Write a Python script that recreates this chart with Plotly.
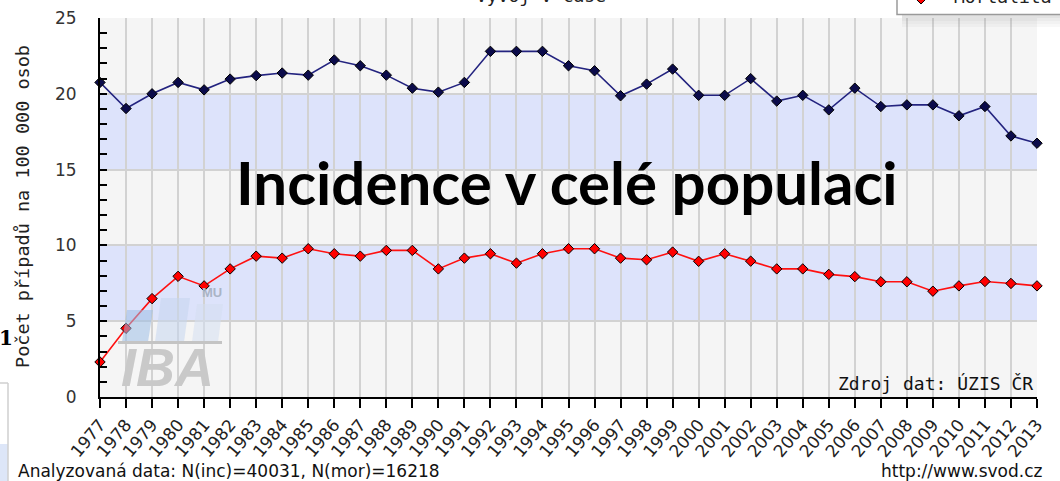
import plotly.graph_objects as go

years = list(range(1977, 2014))
incidence = [20.75, 19.03, 20.0, 20.75, 20.26, 20.97, 21.2, 21.37, 21.23, 22.23,
             21.85, 21.23, 20.37, 20.11, 20.75, 22.8, 22.8, 22.8, 21.85, 21.52,
             19.87, 20.64, 21.63, 19.9, 19.9, 21.0, 19.52, 19.9, 18.94, 20.37,
             19.16, 19.27, 19.27, 18.55, 19.16, 17.22, 16.74]
mortality = [2.31, 4.53, 6.49, 7.96, 7.33, 8.45, 9.29, 9.16, 9.78, 9.45,
             9.29, 9.67, 9.67, 8.45, 9.16, 9.45, 8.83, 9.45, 9.78, 9.78,
             9.16, 9.05, 9.56, 8.95, 9.45, 8.96, 8.45, 8.45, 8.09, 7.94,
             7.6, 7.6, 6.98, 7.33, 7.62, 7.49, 7.33]
tick_labels = [str(y) for y in years]
y_ticks = [0, 5, 10, 15, 20, 25]
series_names = ["Incidence", "Mortalita"]

W, H = 1060, 481
L, R, T, B = 100, 1037, 18, 397


def px(xp):
    return (xp - L) / (R - L)


def py(yp):
    return (B - yp) / (B - T)


fig = go.Figure()
fig.add_trace(go.Scatter(
    x=years, y=incidence, name=series_names[0], mode="lines+markers",
    line=dict(color="#23237f", width=1.6),
    marker=dict(symbol="diamond", size=8, color="#0b0b4a", line=dict(color="#000000", width=1)),
    cliponaxis=False, showlegend=False))
fig.add_trace(go.Scatter(
    x=years, y=mortality, name=series_names[1], mode="lines+markers",
    line=dict(color="#ff1010", width=1.6),
    marker=dict(symbol="diamond", size=8, color="#ff0000", line=dict(color="#000000", width=1)),
    cliponaxis=False, showlegend=False))

shapes = []
# horizontal bands
for y0, y1 in [(5, 10), (15, 20)]:
    shapes.append(dict(type="rect", xref="paper", yref="y", x0=0, x1=1, y0=y0, y1=y1,
                       fillcolor="#dde3fb", line=dict(width=0), layer="below"))

# watermark logo (IBA)
def para(x0, x1, ytop, ybot, skew, color, op):
    pts = [(x0, ybot), (x1, ybot), (x1 + skew, ytop), (x0 + skew, ytop)]
    path = "M " + " L ".join(f"{px(a):.5f},{py(b):.5f}" for a, b in pts) + " Z"
    return dict(type="path", xref="paper", yref="paper", path=path,
                fillcolor=color, line=dict(width=0), opacity=op, layer="above")

shapes.append(para(122, 148, 310, 342, 5, "#9dbde6", 0.55))
shapes.append(para(155, 184, 298, 342, 6, "#c4d5ee", 0.55))
shapes.append(para(192, 218, 304, 342, 5, "#d3def0", 0.55))
shapes.append(dict(type="line", xref="paper", yref="paper", x0=px(118), x1=px(222),
                   y0=py(342.5), y1=py(342.5), line=dict(color="#c4c4c4", width=3), layer="above"))

# legend box (cut at top) with shadow
for i, op in enumerate([0.25, 0.17, 0.11, 0.06]):
    shapes.append(dict(type="rect", xref="paper", yref="paper",
                       x0=px(902), x1=px(1075), y0=py(15 + 3 * (i + 1)), y1=py(15 + 3 * i),
                       fillcolor="#8a8a8a", opacity=op, line=dict(width=0), layer="above"))
shapes.append(dict(type="rect", xref="paper", yref="paper", x0=px(897), x1=px(1080),
                   y0=py(14.5), y1=py(-40), fillcolor="#ffffff",
                   line=dict(color="#9a9a9a", width=1.5), layer="above"))
d = 5
cx, cy = 921, -1
dpath = (f"M {px(cx):.5f},{py(cy - d):.5f} L {px(cx + d):.5f},{py(cy):.5f} "
         f"L {px(cx):.5f},{py(cy + d):.5f} L {px(cx - d):.5f},{py(cy):.5f} Z")
shapes.append(dict(type="path", xref="paper", yref="paper", path=dpath,
                   fillcolor="#ff0000", line=dict(color="#000000", width=1), layer="above"))

# table fragment at bottom-left
shapes.append(dict(type="rect", xref="paper", yref="paper", x0=px(-5), x1=px(8),
                   y0=py(444), y1=py(490), fillcolor="#dde6f8", line=dict(width=0), layer="above"))
shapes.append(dict(type="line", xref="paper", yref="paper", x0=px(-5), x1=px(8),
                   y0=py(383), y1=py(383), line=dict(color="#cfcfcf", width=1.5), layer="above"))
shapes.append(dict(type="line", xref="paper", yref="paper", x0=px(8), x1=px(8),
                   y0=py(383), y1=py(490), line=dict(color="#cfcfcf", width=1.5), layer="above"))

annotations = [
    dict(text="Incidence v celé populaci", x=px(567), y=py(182), xref="paper", yref="paper",
         xanchor="center", yanchor="middle", showarrow=False,
         font=dict(family="Lato", size=60, color="#000000", weight="bold")),
    dict(text="Počet případů na 100 000 osob", x=px(22), y=py(207), xref="paper", yref="paper",
         xanchor="center", yanchor="middle", textangle=-90, showarrow=False,
         font=dict(family="DejaVu Sans Mono", size=18.5, color="#222222")),
    dict(text="Zdroj dat: ÚZIS ČR", x=px(1035), y=py(383), xref="paper", yref="paper",
         xanchor="right", yanchor="middle", showarrow=False,
         font=dict(family="DejaVu Sans Mono", size=18, color="#111111")),
    dict(text="Analyzovaná data: N(inc)=40031, N(mor)=16218", x=px(16), y=py(471), xref="paper",
         yref="paper", xanchor="left", yanchor="middle", showarrow=False,
         font=dict(family="DejaVu Sans", size=17, color="#111111")),
    dict(text="http://www.svod.cz", x=px(879), y=py(471), xref="paper", yref="paper",
         xanchor="left", yanchor="middle", showarrow=False,
         font=dict(family="DejaVu Sans", size=17, color="#111111")),
    dict(text="Vývoj v čase", x=px(541), y=py(8), xref="paper", yref="paper",
         xanchor="center", yanchor="bottom", showarrow=False,
         font=dict(family="DejaVu Sans Mono", size=18, color="#222222")),
    dict(text="Mortalita", x=px(952), y=py(9), xref="paper", yref="paper",
         xanchor="left", yanchor="bottom", showarrow=False,
         font=dict(family="DejaVu Sans Mono", size=18, color="#222222")),
    dict(text="<i>IBA</i>", x=px(167), y=py(367), xref="paper", yref="paper",
         xanchor="center", yanchor="middle", showarrow=False,
         font=dict(family="Liberation Sans", size=54, color="#c9c9c9", weight="bold")),
    dict(text="MU", x=px(212), y=py(292), xref="paper", yref="paper",
         xanchor="center", yanchor="middle", showarrow=False,
         font=dict(family="Liberation Sans", size=13, color="#aab4c6", weight="bold")),
    dict(text="1", x=px(6), y=py(338), xref="paper", yref="paper",
         xanchor="center", yanchor="middle", showarrow=False,
         font=dict(family="DejaVu Serif", size=20, color="#000000", weight="bold")),
]

fig.update_layout(
    width=W, height=H,
    margin=dict(l=L, r=W - R, t=T, b=H - B, pad=0),
    paper_bgcolor="#ffffff", plot_bgcolor="#f5f5f5",
    shapes=shapes, annotations=annotations, showlegend=False,
    xaxis=dict(range=[1977, 2013], tickmode="array", tickvals=years, ticktext=tick_labels,
               ticks="outside", ticklen=9, tickwidth=2, tickcolor="#000000",
               showline=True, linecolor="#000000", linewidth=2, automargin=False,
               showgrid=True, gridcolor="#d2d2d2", gridwidth=2, zeroline=False,
               tickangle=-50, tickfont=dict(family="DejaVu Sans", size=17, color="#222222")),
    yaxis=dict(range=[0, 25], tickmode="array", tickvals=y_ticks, automargin=False,
               ticks="inside", ticklen=7, tickwidth=2, tickcolor="#000000",
               showline=True, linecolor="#000000", linewidth=2,
               showgrid=True, gridcolor="#d2d2d2", gridwidth=2, zeroline=False,
               minor=dict(dtick=1, ticks="inside", ticklen=7, tickwidth=1.5,
                          tickcolor="#000000", showgrid=False),
               ticklabelstandoff=18,
               tickfont=dict(family="DejaVu Sans", size=17, color="#333333")),
)

fig.write_html("out.html", config={"displayModeBar": False},
               post_script="document.body.style.margin='0';document.body.style.overflow='hidden';")
